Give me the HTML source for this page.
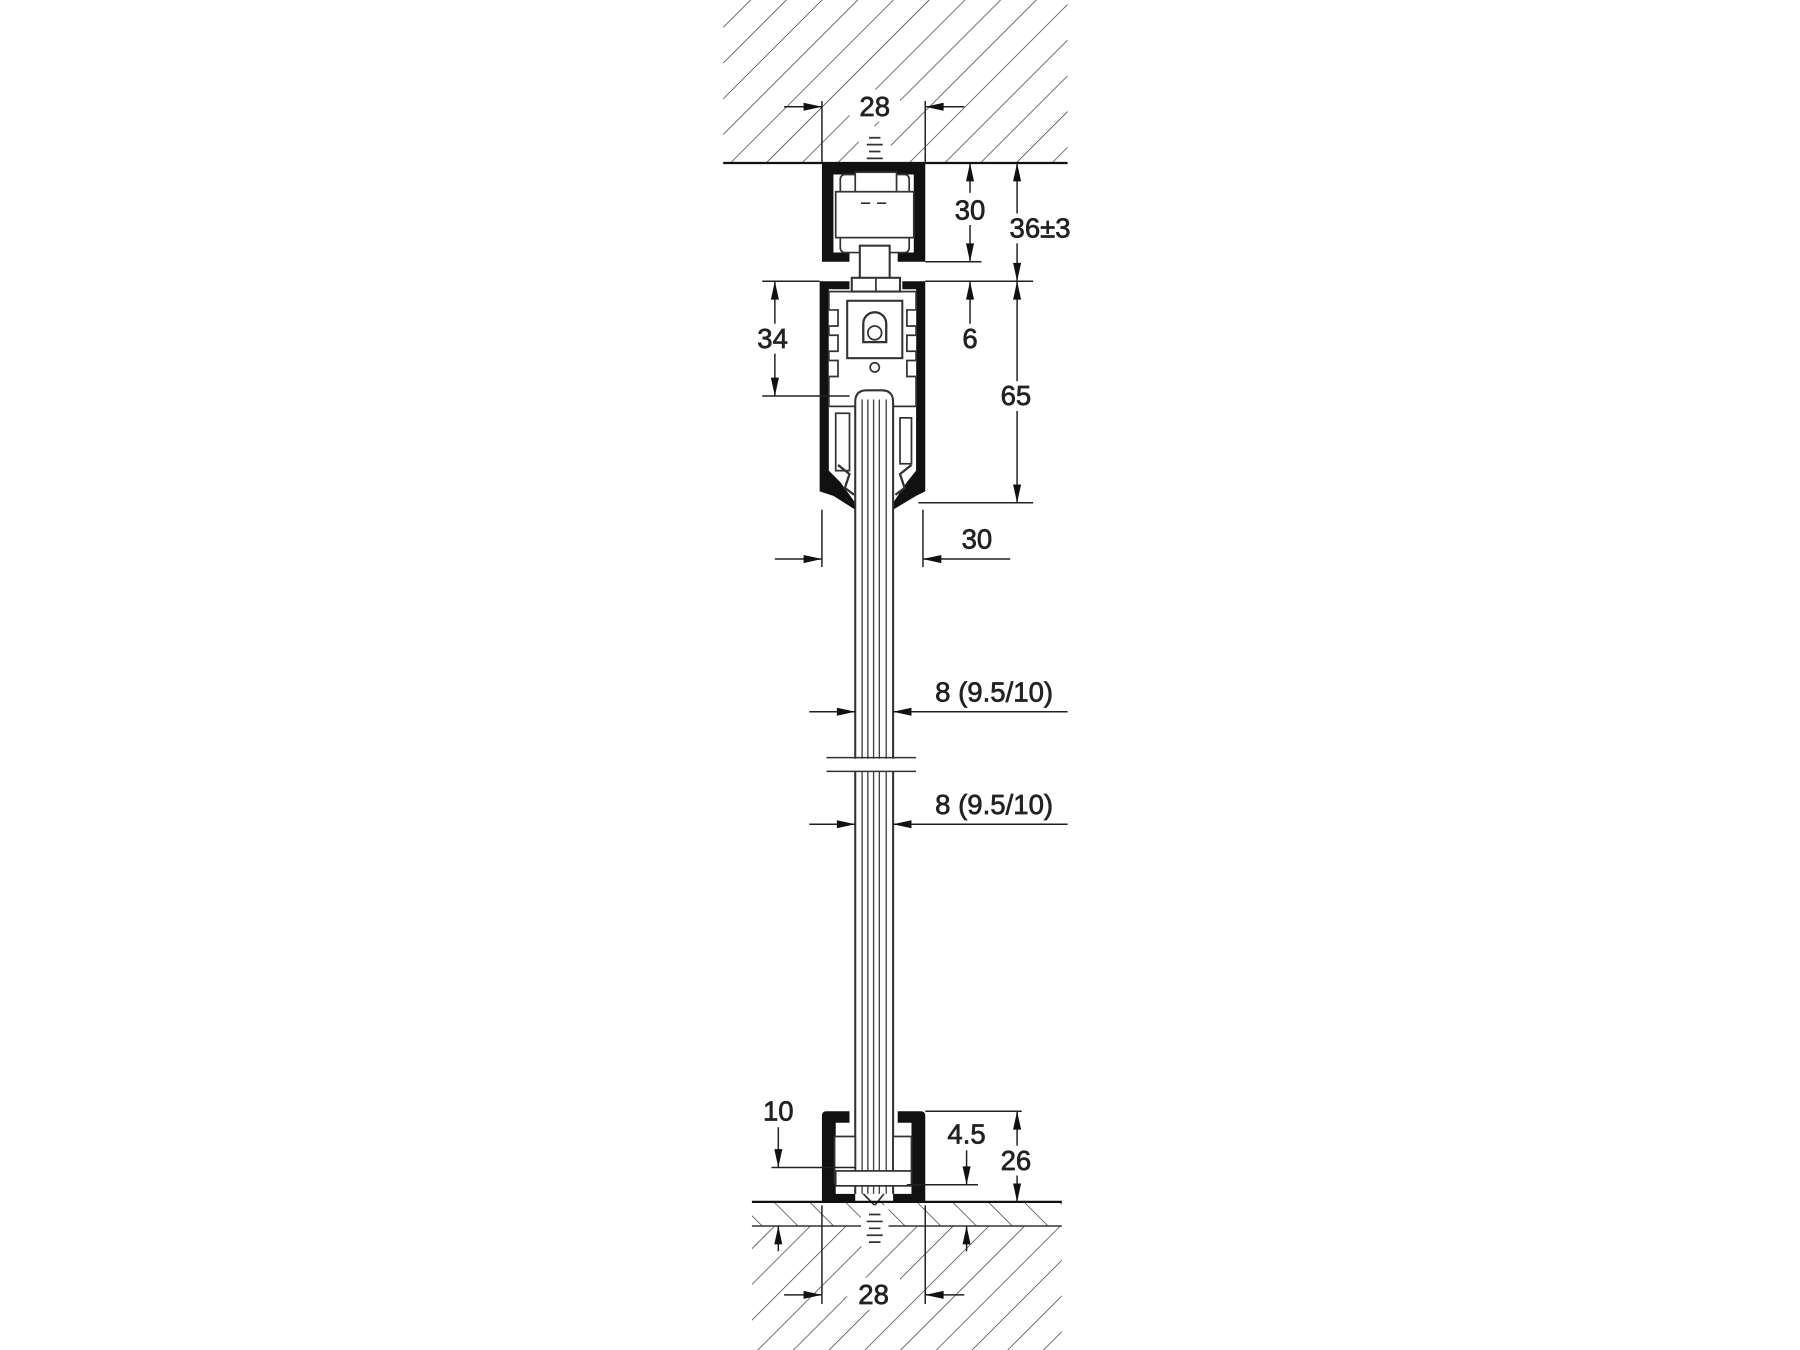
<!DOCTYPE html>
<html><head><meta charset="utf-8"><style>
html,body{margin:0;padding:0;background:#fff}
svg{display:block}
text{font-family:"Liberation Sans",Arial,sans-serif;font-size:24px;fill:#222;stroke:#222;stroke-width:0.6;text-anchor:middle}
</style></head><body>
<svg width="1800" height="1350" viewBox="0 0 1568 1176" xmlns="http://www.w3.org/2000/svg">
<defs>
<pattern id="h1" patternUnits="userSpaceOnUse" width="22" height="22" patternTransform="rotate(45)">
<line x1="0" y1="0" x2="0" y2="22" stroke="#333" stroke-width="1.2"/>
</pattern>
<pattern id="h2" patternUnits="userSpaceOnUse" width="22" height="22" patternTransform="rotate(-45)">
<line x1="0" y1="0" x2="0" y2="22" stroke="#333" stroke-width="1.2"/>
</pattern>
<marker id="ar" markerWidth="20" markerHeight="8" refX="20" refY="4" orient="auto" markerUnits="userSpaceOnUse">
<path d="M4,0.5 L20,4 L4,7.5 Z" fill="#111"/></marker>
</defs>
<!-- ceiling -->
<rect x="630" y="0" width="300" height="142" fill="url(#h1)"/>
<rect x="748" y="110" width="28" height="32" fill="#fff"/>
<line x1="630" y1="142" x2="930" y2="142" stroke="#111" stroke-width="2"/>
<path d="M757 120 h10 M755 126 h14 M757 132 h10 M755 138 h14" stroke="#333" stroke-width="1.5"/>
<!-- top track -->
<path d="M716 142 H806 V228 H782 V220 H796 V152 H726 V220 H740 V228 H716 Z" fill="#111"/>
<rect x="732" y="152" width="60" height="68" fill="#fff" stroke="#333" stroke-width="1.5" rx="4"/>
<rect x="745" y="150" width="36" height="18" fill="#fff" stroke="#333" stroke-width="1.5"/>
<rect x="728" y="167" width="68" height="40" fill="#fff" stroke="#333" stroke-width="1.5"/>
<path d="M750 177 h8 M764 177 h8" stroke="#333" stroke-width="1.5"/>
<rect x="749" y="214" width="26" height="34" fill="#fff" stroke="#333" stroke-width="1.8"/>
<rect x="742" y="242" width="42" height="12" fill="#fff" stroke="#333" stroke-width="1.8"/>
<line x1="763" y1="242" x2="763" y2="254" stroke="#333" stroke-width="1.5"/>
<!-- carrier -->
<path d="M714 245 H740 V252 H722 V410 L732 420 L745 438 V444 L726 432 L714 428 Z" fill="#111"/>
<path d="M806 245 H786 V252 H798 V410 L790 420 L778 438 V444 L798 432 L806 428 Z" fill="#111"/>
<rect x="722" y="254" width="76" height="100" fill="none" stroke="#333" stroke-width="1.5"/>
<rect x="738" y="262" width="48" height="50" fill="#fff" stroke="#333" stroke-width="1.8"/>
<path d="M752 282 a10 10 0 0 1 20 0 v16 h-20 Z" fill="#fff" stroke="#333" stroke-width="2"/>
<circle cx="762" cy="290" r="6" fill="none" stroke="#333" stroke-width="1.5"/>
<circle cx="762" cy="320" r="4" fill="none" stroke="#333" stroke-width="1.5"/>
<path d="M722 270 h8 v14 h-8 M722 292 h8 v14 h-8 M722 314 h8 v14 h-8 M798 270 h-8 v14 h8 M798 292 h-8 v14 h8 M798 314 h-8 v14 h8" fill="#fff" stroke="#333" stroke-width="1.5"/>
<rect x="728" y="360" width="12" height="50" fill="none" stroke="#333" stroke-width="1.5"/>
<rect x="784" y="364" width="10" height="40" fill="none" stroke="#333" stroke-width="1.5"/>
<path d="M730 405 l10 8 -4 12 8 6 M794 405 l-10 8 4 12 -8 6" fill="none" stroke="#333" stroke-width="2"/>
<!-- glass -->
<path d="M745 1040 V350 Q745 340 755 340 H768 Q778 340 778 350 V1040" fill="#fff" stroke="#333" stroke-width="1.8"/>
<path d="M751 348 V1040 M756 348 V1040 M761 348 V1040 M766 348 V1040 M772 348 V1040" stroke="#444" stroke-width="1.2"/>
<rect x="700" y="661" width="100" height="11" fill="#fff"/>
<path d="M720 660 H798 M720 672 H798" stroke="#333" stroke-width="1.3"/>
<!-- bottom guide -->
<path d="M716 1047 V972 Q716 968 720 968 H740 V978 H728 V1040 H745 V1047 Z" fill="#111"/>
<path d="M806 1047 V972 Q806 968 802 968 H782 V978 H794 V1040 H778 V1047 Z" fill="#111"/>
<rect x="727" y="990" width="18" height="40" fill="#fff" stroke="#333" stroke-width="1.5"/>
<rect x="778" y="990" width="16" height="40" fill="#fff" stroke="#333" stroke-width="1.5"/>
<rect x="728" y="1020" width="66" height="13" fill="#fff" stroke="#333" stroke-width="1.5"/>
<path d="M752 1040 L762 1050 L770 1040" fill="none" stroke="#333" stroke-width="1.5"/>
<!-- floor -->
<rect x="655" y="1068" width="270" height="108" fill="url(#h1)"/>
<rect x="655" y="1047" width="270" height="21" fill="url(#h2)"/>
<line x1="655" y1="1047" x2="925" y2="1047" stroke="#111" stroke-width="2"/>
<line x1="655" y1="1068" x2="925" y2="1068" stroke="#333" stroke-width="1.3"/>
<rect x="750" y="1050" width="24" height="36" fill="#fff"/>
<path d="M757 1058 h10 M755 1064 h14 M757 1070 h10 M755 1076 h14 M757 1082 h10" stroke="#333" stroke-width="1.5"/>
<!-- dimensions -->
<g stroke="#222" stroke-width="1.3" fill="none">
<line x1="716" y1="88" x2="716" y2="142"/><line x1="806" y1="88" x2="806" y2="142"/>
<line x1="683" y1="93" x2="716" y2="93" marker-end="url(#ar)"/>
<line x1="840" y1="93" x2="806" y2="93" marker-end="url(#ar)"/>
<line x1="806" y1="228" x2="855" y2="228"/>
<line x1="845" y1="170" x2="845" y2="142" marker-end="url(#ar)"/>
<line x1="845" y1="196" x2="845" y2="228" marker-end="url(#ar)"/>
<line x1="886" y1="186" x2="886" y2="142" marker-end="url(#ar)"/>
<line x1="886" y1="212" x2="886" y2="245" marker-end="url(#ar)"/>
<line x1="664" y1="245" x2="714" y2="245"/><line x1="806" y1="245" x2="900" y2="245"/>
<line x1="664" y1="345" x2="740" y2="345"/>
<line x1="675" y1="282" x2="675" y2="245" marker-end="url(#ar)"/>
<line x1="675" y1="308" x2="675" y2="345" marker-end="url(#ar)"/>
<line x1="845" y1="282" x2="845" y2="245" marker-end="url(#ar)"/>
<line x1="886" y1="332" x2="886" y2="245" marker-end="url(#ar)"/>
<line x1="886" y1="358" x2="886" y2="438" marker-end="url(#ar)"/>
<line x1="800" y1="438" x2="900" y2="438"/>
<line x1="716" y1="444" x2="716" y2="494"/><line x1="804" y1="444" x2="804" y2="494"/>
<line x1="675" y1="487" x2="716" y2="487" marker-end="url(#ar)"/>
<line x1="880" y1="487" x2="804" y2="487" marker-end="url(#ar)"/>
<line x1="705" y1="620" x2="745" y2="620" marker-end="url(#ar)"/>
<line x1="930" y1="620" x2="778" y2="620" marker-end="url(#ar)"/>
<line x1="705" y1="718" x2="745" y2="718" marker-end="url(#ar)"/>
<line x1="930" y1="718" x2="778" y2="718" marker-end="url(#ar)"/>
<line x1="672" y1="1017" x2="745" y2="1017"/>
<line x1="678" y1="982" x2="678" y2="1017" marker-end="url(#ar)"/>
<line x1="790" y1="1032" x2="852" y2="1032"/>
<line x1="842" y1="1002" x2="842" y2="1032" marker-end="url(#ar)"/>
<line x1="806" y1="968" x2="890" y2="968"/>
<line x1="886" y1="998" x2="886" y2="968" marker-end="url(#ar)"/>
<line x1="886" y1="1024" x2="886" y2="1047" marker-end="url(#ar)"/>
<line x1="678" y1="1090" x2="678" y2="1068" marker-end="url(#ar)"/>
<line x1="842" y1="1090" x2="842" y2="1068" marker-end="url(#ar)"/>
<line x1="716" y1="1050" x2="716" y2="1136"/><line x1="806" y1="1050" x2="806" y2="1136"/>
<line x1="683" y1="1128" x2="716" y2="1128" marker-end="url(#ar)"/>
<line x1="840" y1="1128" x2="806" y2="1128" marker-end="url(#ar)"/>
</g>
<g>
<rect x="740" y="78" width="44" height="28" fill="#fff"/>
<text x="762" y="101">28</text>
<rect x="826" y="168" width="38" height="28" fill="#fff"/>
<text x="845" y="191">30</text>
<text x="906" y="207">36±3</text>
<text x="673" y="303">34</text>
<text x="845" y="303">6</text>
<text x="885" y="353">65</text>
<text x="851" y="478">30</text>
<text x="866" y="611">8 (9.5/10)</text>
<text x="866" y="709">8 (9.5/10)</text>
<text x="678" y="976">10</text>
<text x="842" y="996">4.5</text>
<text x="885" y="1019">26</text>
<rect x="738" y="1113" width="46" height="28" fill="#fff"/>
<text x="761" y="1136">28</text>
</g>
</svg>
</body></html>
